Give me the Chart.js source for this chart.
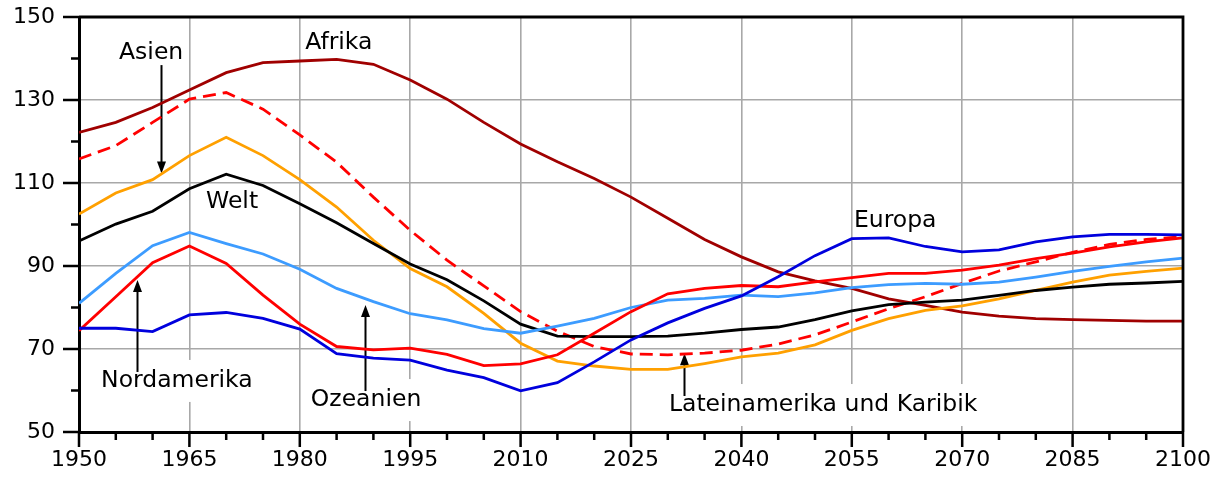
<!DOCTYPE html>
<html>
<head>
<meta charset="utf-8">
<script src="https://cdn.jsdelivr.net/npm/chart.js@4"></script>
<style>
  body { margin: 0; background: #fff; }
  #wrap { width: 1224px; height: 485px; position: relative; }
</style>
</head>
<body>
<div id="wrap"><canvas id="quotientChart"></canvas></div>
<script>
// Jahre (alle 5 Jahre)
var years = [1950, 1955, 1960, 1965, 1970, 1975, 1980, 1985, 1990, 1995, 2000,
             2005, 2010, 2015, 2020, 2025, 2030, 2035, 2040, 2045, 2050, 2055,
             2060, 2065, 2070, 2075, 2080, 2085, 2090, 2095, 2100];

var afrika = [122.2, 124.6, 128.2, 132.4, 136.6, 139.0, 139.4, 139.8, 138.6, 134.8, 130.2,
              124.6, 119.4, 115.1, 111.1, 106.6, 101.5, 96.4, 92.2, 88.6, 86.4, 84.6,
              82.1, 80.5, 78.9, 77.9, 77.3, 77.1, 76.9, 76.7, 76.7];
var lateinamerika = [115.8, 119.0, 124.6, 130.2, 131.8, 127.8, 121.6, 115.0, 106.6, 98.6, 91.4,
                     85.2, 79.0, 74.3, 70.6, 68.8, 68.6, 69.0, 69.7, 71.2, 73.4, 76.5,
                     79.7, 82.6, 85.8, 88.8, 91.0, 93.3, 95.2, 96.4, 97.1];
var asien = [102.5, 107.6, 110.8, 116.6, 121.0, 116.6, 110.8, 104.2, 96.2, 89.4, 85.0,
             78.6, 71.4, 67.1, 65.9, 65.1, 65.1, 66.5, 68.1, 69.0, 71.0, 74.5,
             77.3, 79.3, 80.4, 82.1, 84.1, 86.1, 87.8, 88.7, 89.5];
var welt = [96.0, 100.1, 103.2, 108.6, 112.1, 109.4, 105.0, 100.4, 95.4, 90.5, 86.7,
            81.6, 76.0, 73.1, 73.0, 73.0, 73.1, 73.8, 74.7, 75.3, 77.1, 79.2,
            80.7, 81.3, 81.8, 82.9, 84.1, 84.9, 85.6, 85.9, 86.3];
var ozeanien = [81.0, 88.2, 94.9, 98.1, 95.4, 92.9, 89.2, 84.6, 81.4, 78.5, 77.0,
                74.9, 73.8, 75.5, 77.4, 80.0, 81.8, 82.2, 83.0, 82.6, 83.5, 84.8,
                85.5, 85.8, 85.6, 86.1, 87.3, 88.7, 89.9, 91.0, 91.9];
var nordamerika = [74.4, 82.6, 90.8, 94.8, 90.6, 83.0, 76.0, 70.6, 69.8, 70.2, 68.7,
                   66.0, 66.4, 68.6, 73.8, 79.0, 83.3, 84.6, 85.3, 85.0, 86.2, 87.2,
                   88.2, 88.2, 89.0, 90.2, 91.8, 93.1, 94.6, 95.8, 96.8];
var europa = [75.0, 75.0, 74.2, 78.2, 78.8, 77.4, 74.8, 68.9, 67.8, 67.3, 64.9,
              63.1, 59.9, 61.9, 66.9, 72.2, 76.3, 79.8, 82.8, 87.4, 92.5, 96.6,
              96.8, 94.7, 93.4, 93.9, 95.8, 97.0, 97.6, 97.6, 97.5];

// Achsenbeschriftung
var xTicks = [1950, 1965, 1980, 1995, 2010, 2025, 2040, 2055, 2070, 2085, 2100];
var yTicks = [50, 70, 90, 110, 130, 150];

// Beschriftungen im Diagramm: [Text, Jahr, Wert, Pfeil bis Wert (oder null), weiss hinterlegt]
var beschriftungen = [
    ['Afrika', 1985.3, 143.7, null, false],
    ['Asien', 1959.8, 141.3, 112.3, false],
    ['Welt', 1970.8, 105.4, null, false],
    ['Europa', 2060.9, 100.8, null, false],
    ['Nordamerika', 1963.3, 62.3, 86.6, true],
    ['Ozeanien', 1989.0, 57.7, 80.6, true],
    ['Lateinamerika und Karibik', 2051.1, 56.5, 69.0, true]
];
var pfeilX = { 'Asien': 1961.2, 'Nordamerika': 1957.9, 'Ozeanien': 1988.8, 'Lateinamerika und Karibik': 2032.2 };

function punkte(werte) {
    return years.map(function (j, i) { return { x: j, y: werte[i] }; });
}

function linie(label, werte, farbe, dash) {
    return {
        label: label,
        data: punkte(werte),
        borderColor: farbe,
        borderWidth: 2.8,
        borderDash: dash || [],
        pointRadius: 0,
        tension: 0,
        fill: false
    };
}

var schrift = '23.5px "DejaVu Sans"';

// Beschriftungen (teils weiss hinterlegt) und Pfeile
var textPlugin = {
    id: 'beschriftung',
    beforeDatasetsDraw: function (chart) {
        var ctx = chart.ctx, xs = chart.scales.x, ys = chart.scales.y;
        ctx.save();
        ctx.font = schrift;
        ctx.textAlign = 'center';
        ctx.textBaseline = 'middle';
        beschriftungen.forEach(function (b) {
            var px = xs.getPixelForValue(b[1]), py = ys.getPixelForValue(b[2]);
            var w = ctx.measureText(b[0]).width;
            if (b[4]) {
                ctx.fillStyle = '#fff';
                ctx.fillRect(px - w / 2 - 3, py - 21, w + 6, 42);
            }
            ctx.fillStyle = '#000';
            ctx.fillText(b[0], px, py);
        });
        // Pfeile
        beschriftungen.forEach(function (b) {
            if (b[3] === null) return;
            var ax = Math.round(xs.getPixelForValue(pfeilX[b[0]])) + 0.5;
            var ty = ys.getPixelForValue(b[2]);
            var tip = ys.getPixelForValue(b[3]);
            var start = tip > ty ? ty + 12 : ty - 9;
            var dir = tip > start ? 1 : -1;
            ctx.strokeStyle = '#000';
            ctx.lineWidth = 2;
            ctx.beginPath();
            ctx.moveTo(ax, start);
            ctx.lineTo(ax, tip - dir * 10);
            ctx.stroke();
            ctx.fillStyle = '#000';
            ctx.beginPath();
            ctx.moveTo(ax, tip);
            ctx.lineTo(ax - 4.5, tip - dir * 12);
            ctx.lineTo(ax + 4.5, tip - dir * 12);
            ctx.closePath();
            ctx.fill();
        });
        ctx.restore();
    }
};

// Rahmen oben/rechts und Teilstriche (gross + klein)
var rahmenPlugin = {
    id: 'rahmen',
    afterDraw: function (chart) {
        var ctx = chart.ctx, a = chart.chartArea, xs = chart.scales.x, ys = chart.scales.y;
        ctx.save();
        ctx.strokeStyle = '#000';
        ctx.lineWidth = 2.8;
        ctx.beginPath();
        ctx.moveTo(a.left, a.top);
        ctx.lineTo(a.right, a.top);
        ctx.lineTo(a.right, a.bottom);
        ctx.stroke();
        ctx.lineWidth = 2.5;
        ctx.beginPath();
        for (var v = 50; v <= 150; v += 10) {
            var py = ys.getPixelForValue(v);
            var len = (v - 50) % 20 === 0 ? 16 : 8;
            ctx.moveTo(a.left - len, py);
            ctx.lineTo(a.left, py);
        }
        for (var j = 1950; j <= 2100; j += 5) {
            var px = xs.getPixelForValue(j);
            var l2 = (j - 1950) % 15 === 0 ? 15 : 8;
            ctx.moveTo(px, a.bottom);
            ctx.lineTo(px, a.bottom + l2);
        }
        ctx.stroke();
        ctx.restore();
    }
};

var ctx = document.getElementById('quotientChart').getContext('2d');
var chart = new Chart(ctx, {
    type: 'line',
    data: {
        datasets: [
            linie('Europa', europa, '#0000dd'),
            linie('Nordamerika', nordamerika, '#ff0000'),
            linie('Ozeanien', ozeanien, '#3d9cff'),
            linie('Welt', welt, '#000000'),
            linie('Asien', asien, '#ffa000'),
            linie('Lateinamerika und Karibik', lateinamerika, '#ff0000', [13, 7]),
            linie('Afrika', afrika, '#a00000')
        ]
    },
    options: {
        responsive: true,
        maintainAspectRatio: false,
        animation: false,
        layout: { padding: { top: 17, right: 41, left: 0, bottom: 0 } },
        plugins: {
            legend: { display: false },
            tooltip: { enabled: false }
        },
        scales: {
            x: {
                type: 'linear',
                min: 1950,
                max: 2100,
                afterBuildTicks: function (scale) {
                    scale.ticks = xTicks.map(function (v) { return { value: v }; });
                },
                afterFit: function (scale) {
                    scale.height = 53;
                    scale.paddingLeft = 0;
                    scale.paddingRight = 0;
                },
                ticks: {
                    font: { family: 'DejaVu Sans', size: 22 },
                    color: '#000',
                    padding: 15,
                    maxRotation: 0,
                    callback: function (v) { return String(v); }
                },
                grid: { color: '#a8a8a8', lineWidth: 1.6, drawTicks: false },
                border: { color: '#000', width: 3 }
            },
            y: {
                min: 50,
                max: 150,
                afterBuildTicks: function (scale) {
                    scale.ticks = yTicks.map(function (v) { return { value: v }; });
                },
                afterFit: function (scale) {
                    scale.width = 79;
                    scale.paddingTop = 0;
                    scale.paddingBottom = 0;
                },
                ticks: {
                    font: { family: 'DejaVu Sans', size: 22 },
                    color: '#000',
                    padding: 24
                },
                grid: { color: '#a8a8a8', lineWidth: 1.6, drawTicks: false },
                border: { color: '#000', width: 3 }
            }
        }
    },
    plugins: [textPlugin, rahmenPlugin]
});
</script>
</body>
</html>
